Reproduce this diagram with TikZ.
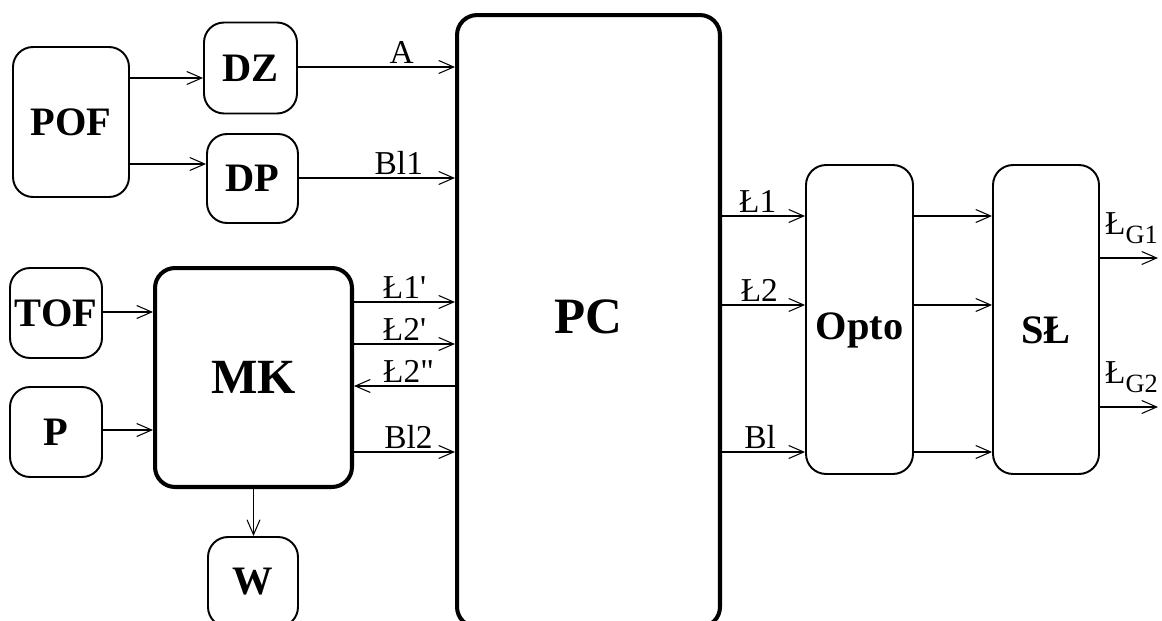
\documentclass[tikz,border=0pt]{standalone}
\usepackage{fontspec}
\setmainfont{Liberation Serif}
\usetikzlibrary{arrows.meta, positioning, calc}

\begin{document}
\begin{tikzpicture}[x=0.02cm, y=-0.02cm, >={Straight Barb[length=3mm,width=2.6mm]},
  blk/.style={draw, rounded corners=0.4cm, line width=1.1pt, inner sep=0pt, font=\fontsize{23}{27}\selectfont\bfseries},
  bigblk/.style={blk, line width=2.3pt},
  sig/.style={->, line width=0.6pt},
  lab/.style={font=\fontsize{19}{22}\selectfont, inner sep=1.5pt}]

\useasboundingbox (0,0) rectangle (1162,621);

% Sensors
\node[blk, minimum width=2.32cm, minimum height=3cm] (POF) at (71,122) {POF};
\node[blk, minimum width=1.86cm, minimum height=1.82cm] (DZ) at (250.5,68) {DZ};
\node[blk, minimum width=1.82cm, minimum height=1.78cm] (DP) at (252.5,178.5) {DP};
\node[blk, minimum width=1.84cm, minimum height=1.8cm] (TOF) at (56,313) {TOF};
\node[blk, minimum width=1.84cm, minimum height=1.8cm] (P) at (56,432) {P};

% Microcontroller and display
\node[bigblk, minimum width=3.94cm, minimum height=4.38cm, font=\fontsize{28}{32}\selectfont\bfseries] (MK) at (253.5,377.5) {MK};
\node[blk, minimum width=1.8cm, minimum height=1.8cm] (W) at (253,582) {W};

% PC
\node[bigblk, minimum width=5.26cm, minimum height=12.24cm, label={[font=\fontsize{29}{33}\selectfont\bfseries, yshift=0.08cm]center:PC}] (PC) at (588.5,321) {};

% Optocouplers and switches
\node[blk, minimum width=2.14cm, minimum height=6.18cm, label={[font=\fontsize{23}{27}\selectfont\bfseries, yshift=-0.22cm]center:Opto}] (Opto) at (859.5,319.5) {};
\node[blk, minimum width=2.12cm, minimum height=6.18cm, label={[font=\fontsize{23}{27}\selectfont\bfseries, yshift=-0.22cm]center:SŁ}] (SL) at (1046,319.5) {};

% Sensors -> DZ, DP -> PC
\draw[sig] (POF.east |- 0,78) -- (DZ.west |- 0,78);
\draw[sig] (POF.east |- 0,164) -- (DP.west |- 0,164);
\draw[sig] (DZ.east |- 0,67) -- node[lab, above, pos=0.66] {A} (PC.west |- 0,67);
\draw[sig] (DP.east |- 0,178) -- node[lab, above, pos=0.64] {Bl1} (PC.west |- 0,178);

% Inputs of MK
\draw[sig] (TOF.east |- 0,312) -- (MK.west |- 0,312);
\draw[sig] (P.east |- 0,430) -- (MK.west |- 0,430);
\draw[sig] (MK.south) -- (MK.south |- W.north);

% MK <-> PC
\draw[sig] (MK.east |- 0,302) -- node[lab, above] {Ł1\textquotesingle} (PC.west |- 0,302);
\draw[sig] (MK.east |- 0,344) -- node[lab, above] {Ł2\textquotesingle} (PC.west |- 0,344);
\draw[sig] (PC.west |- 0,386) -- node[lab, above, pos=0.46] {Ł2\textquotedbl} (MK.east |- 0,386);
\draw[sig] (MK.east |- 0,452) -- node[lab, above, pos=0.54] {Bl2} (PC.west |- 0,452);

% PC -> Opto
\draw[sig] (PC.east |- 0,216) -- node[lab, above, pos=0.43] {Ł1} (Opto.west |- 0,216);
\draw[sig] (PC.east |- 0,305) -- node[lab, above, pos=0.45] {Ł2} (Opto.west |- 0,305);
\draw[sig] (PC.east |- 0,452) -- node[lab, above, pos=0.46] {Bl} (Opto.west |- 0,452);

% Opto -> SL
\foreach \y in {216,305,452}
  \draw[sig] (Opto.east |- 0,\y) -- (SL.west |- 0,\y);

% Outputs
\coordinate (G1) at (1158,258);
\coordinate (G2) at (1158,407);
\draw[sig] (SL.east |- G1) -- node[lab, anchor=south west, pos=0, xshift=0.04cm, yshift=0.22cm] {Ł\raisebox{-0.6ex}{\fontsize{15}{17}\selectfont G1}} (G1);
\draw[sig] (SL.east |- G2) -- node[lab, anchor=south west, pos=0, xshift=0.04cm, yshift=0.22cm] {Ł\raisebox{-0.6ex}{\fontsize{15}{17}\selectfont G2}} (G2);

\end{tikzpicture}
\end{document}
